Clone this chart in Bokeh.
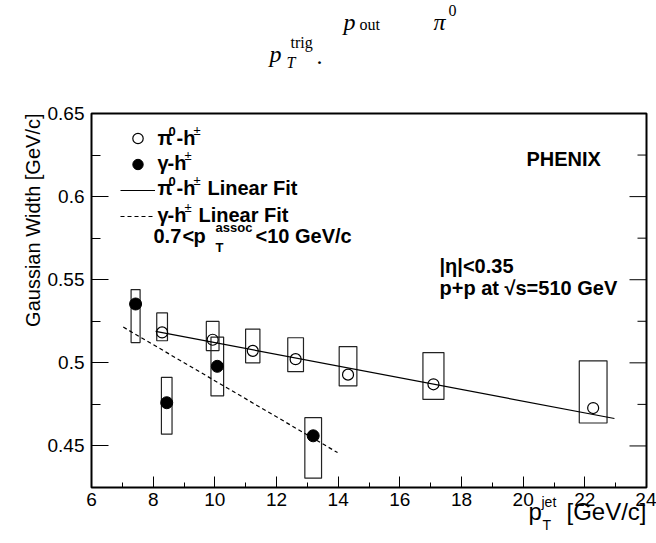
from bokeh.plotting import figure
from bokeh.models import (Label, FixedTicker, CustomJSTickFormatter,
                          Legend, LegendItem, ColumnDataSource, Range1d)
from bokeh.embed import file_html
from bokeh.resources import INLINE
import math

# ---------------- data ----------------
x_ticks = [6, 8, 10, 12, 14, 16, 18, 20, 22, 24]
x_minor = [7, 9, 11, 13, 15, 17, 19, 21, 23]
y_ticks = [0.45, 0.5, 0.55, 0.6, 0.65]
y_minor = [0.425, 0.475, 0.525, 0.575, 0.625]

pi0_x = [8.29, 9.93, 11.23, 12.62, 14.32, 17.09, 22.27]
pi0_y = [0.5183, 0.5139, 0.5072, 0.5022, 0.4929, 0.4871, 0.4728]
pi0_sys_lo = [0.5133, 0.5074, 0.5000, 0.4947, 0.4861, 0.4780, 0.4638]
pi0_sys_hi = [0.5300, 0.5249, 0.5203, 0.5151, 0.5098, 0.5062, 0.5012]
pi0_xerr = [0.174, 0.206, 0.232, 0.255, 0.287, 0.341, 0.450]

gam_x = [7.43, 8.44, 10.08, 13.19]
gam_y = [0.5354, 0.4760, 0.4979, 0.4561]
gam_sys_lo = [0.5122, 0.4571, 0.4801, 0.4306]
gam_sys_hi = [0.5441, 0.4913, 0.5155, 0.4670]
gam_xerr = [0.146, 0.172, 0.205, 0.271]

pi0_fit_x = [8.08, 22.96]
pi0_fit_y = [0.5189, 0.4665]
gam_fit_x = [7.03, 13.98]
gam_fit_y = [0.5215, 0.4460]

X0, X1 = 6, 24
Y0, Y1 = 0.425, 0.65

# ---------------- figure ----------------
W, H = 656, 543
BL, BR, BT, BB = 91, 10, 113, 56
p = figure(width=W, height=H, x_range=Range1d(X0, X1), y_range=Range1d(Y0, Y1),
           output_backend="svg", toolbar_location=None,
           min_border_left=BL, min_border_right=BR, min_border_top=BT, min_border_bottom=BB)
p.xgrid.visible = False
p.ygrid.visible = False
p.outline_line_color = "black"
p.outline_line_width = 2
p.background_fill_color = "white"
p.border_fill_color = "white"

FONT = "Liberation Sans"

xa = p.xaxis[0]
xa.ticker = FixedTicker(ticks=x_ticks, minor_ticks=x_minor)
xa.major_tick_in = 11
xa.major_tick_out = 0
xa.minor_tick_in = 5
xa.minor_tick_out = 0
xa.axis_line_color = None
xa.major_tick_line_color = "black"
xa.minor_tick_line_color = "black"
xa.major_label_text_font = FONT
xa.major_label_text_font_size = "19px"
xa.major_label_text_color = "black"
xa.major_label_standoff = 5

ya = p.yaxis[0]
ya.ticker = FixedTicker(ticks=y_ticks, minor_ticks=y_minor)
ya.formatter = CustomJSTickFormatter(code="return String(Math.round(tick*1000)/1000)")
ya.major_tick_in = 17
ya.major_tick_out = 0
ya.minor_tick_in = 9
ya.minor_tick_out = 0
ya.axis_line_color = None
ya.major_tick_line_color = "black"
ya.minor_tick_line_color = "black"
ya.major_label_text_font = FONT
ya.major_label_text_font_size = "19px"
ya.major_label_text_color = "black"
ya.major_label_standoff = 7

# frame ticks on the right edge (ROOT style)
fw = W - BL - BR
maj_len = 17 * (X1 - X0) / fw
min_len = 9 * (X1 - X0) / fw
p.segment(x0=[X1] * len(y_ticks), y0=y_ticks, x1=[X1 - maj_len] * len(y_ticks), y1=y_ticks,
          line_color="black", line_width=1)
p.segment(x0=[X1] * len(y_minor), y0=y_minor, x1=[X1 - min_len] * len(y_minor), y1=y_minor,
          line_color="black", line_width=1)

# ---------------- systematic boxes ----------------
pi0_src = ColumnDataSource(dict(
    x=pi0_x, y=pi0_y,
    left=[a - b for a, b in zip(pi0_x, pi0_xerr)],
    right=[a + b for a, b in zip(pi0_x, pi0_xerr)],
    lo=pi0_sys_lo, hi=pi0_sys_hi))
gam_src = ColumnDataSource(dict(
    x=gam_x, y=gam_y,
    left=[a - b for a, b in zip(gam_x, gam_xerr)],
    right=[a + b for a, b in zip(gam_x, gam_xerr)],
    lo=gam_sys_lo, hi=gam_sys_hi))

p.quad(left="left", right="right", bottom="lo", top="hi", source=pi0_src,
       fill_color=None, line_color="#222222", line_width=1.2)
p.quad(left="left", right="right", bottom="lo", top="hi", source=gam_src,
       fill_color=None, line_color="#222222", line_width=1.2)

# ---------------- fits ----------------
r_pfit = p.line(pi0_fit_x, pi0_fit_y, line_color="black", line_width=1.2)
r_gfit = p.line(gam_fit_x, gam_fit_y, line_color="black", line_width=1.2, line_dash="4 3")

# ---------------- points ----------------
r_pi0 = p.scatter("x", "y", source=pi0_src, marker="circle", size=11,
                  fill_color=None, line_color="black", line_width=1.2)
r_gam = p.scatter("x", "y", source=gam_src, marker="circle", size=12,
                  fill_color="black", line_color="black", line_width=1)

# ---------------- legend keys ----------------
leg = Legend(items=[LegendItem(label=" ", renderers=[r_pi0]),
                    LegendItem(label=" ", renderers=[r_gam]),
                    LegendItem(label=" ", renderers=[r_pfit]),
                    LegendItem(label=" ", renderers=[r_gfit])],
             location=(29, 258), glyph_width=35, glyph_height=26, label_height=26,
             spacing=0, padding=0, margin=0, label_standoff=0, label_width=0,
             border_line_color=None, background_fill_alpha=0,
             label_text_font_size="13px")
p.add_layout(leg)

# ---------------- text helpers ----------------
def X(px):
    return X0 + (px - BL) * (X1 - X0) / (W - BL - BR)

def Y(py):
    return Y1 - (py - BT) * (Y1 - Y0) / (H - BT - BB)

def txt(s, px, py, size=20, style="bold", align="left", baseline="middle",
        angle=0.0, font=FONT):
    p.add_layout(Label(x=X(px), y=Y(py), text=s, text_font=font,
                       text_font_size=f"{size}px", text_font_style=style,
                       text_align=align, text_baseline=baseline, angle=angle,
                       text_color="black"))

# legend texts
txt("π", 157, 137)
txt("0", 168, 131, size=13)
txt("-h", 176, 137)
txt("±", 193, 130, size=13, style="normal")

txt("γ", 157, 162)
txt("-h", 167, 162)
txt("±", 184, 155, size=13, style="normal")

txt("π", 157, 187)
txt("0", 168, 181, size=13)
txt("-h", 176, 187)
txt("±", 193, 180, size=13, style="normal")
txt("Linear Fit", 207, 187)

txt("γ", 157, 214)
txt("-h", 167, 214)
txt("±", 184, 207, size=13, style="normal")
txt("Linear Fit", 198, 214)

txt("0.7", 153, 235)
txt("<", 182, 235)
txt("p", 193, 235)
txt("assoc", 215, 227, size=13)
txt("T", 215, 247, size=13)
txt("<10 GeV/c", 255, 235)

txt("PHENIX", 526, 158)
txt("|η|<0.35", 439, 265)
txt("p+p at  √s=510 GeV", 439, 287)

# ---------------- texts outside the frame (drawn on the overlay level) ----------------
SERIF = "Liberation Serif"
outside = [
    # text, px, py, size, style, font, align, angle
    ("Gaussian Width [GeV/c]", 32, 113, 20, "normal", FONT, "right", math.pi / 2),
    ("p", 528, 511, 24, "normal", FONT, "left", 0.0),
    ("jet", 541, 501, 14, "normal", FONT, "left", 0.0),
    ("T", 542, 524, 14, "normal", FONT, "left", 0.0),
    ("[GeV/c]", 646, 511, 24, "normal", FONT, "right", 0.0),
    ("p", 343, 21, 24, "italic", SERIF, "left", 0.0),
    ("out", 359, 24, 16, "normal", SERIF, "left", 0.0),
    ("π", 433, 21, 24, "italic", SERIF, "left", 0.0),
    ("0", 448, 10, 16, "normal", SERIF, "left", 0.0),
    ("p", 269, 53, 24, "italic", SERIF, "left", 0.0),
    ("T", 286, 62, 16, "italic", SERIF, "left", 0.0),
    ("trig", 290, 42, 16, "normal", SERIF, "left", 0.0),
    (".", 316, 56, 24, "normal", SERIF, "left", 0.0),
]
out_src = ColumnDataSource(dict(
    text=[o[0] for o in outside],
    x=[X(o[1]) for o in outside],
    y=[Y(o[2]) for o in outside],
    size=[f"{o[3]}px" for o in outside],
    style=[o[4] for o in outside],
    font=[o[5] for o in outside],
    align=[o[6] for o in outside],
    angle=[o[7] for o in outside],
))
p.text(x="x", y="y", text="text", source=out_src, text_font="font",
       text_font_size="size", text_font_style="style", text_align="align",
       text_baseline="middle", angle="angle", text_color="black", level="overlay")

open("out.html", "w").write(file_html(p, INLINE))
